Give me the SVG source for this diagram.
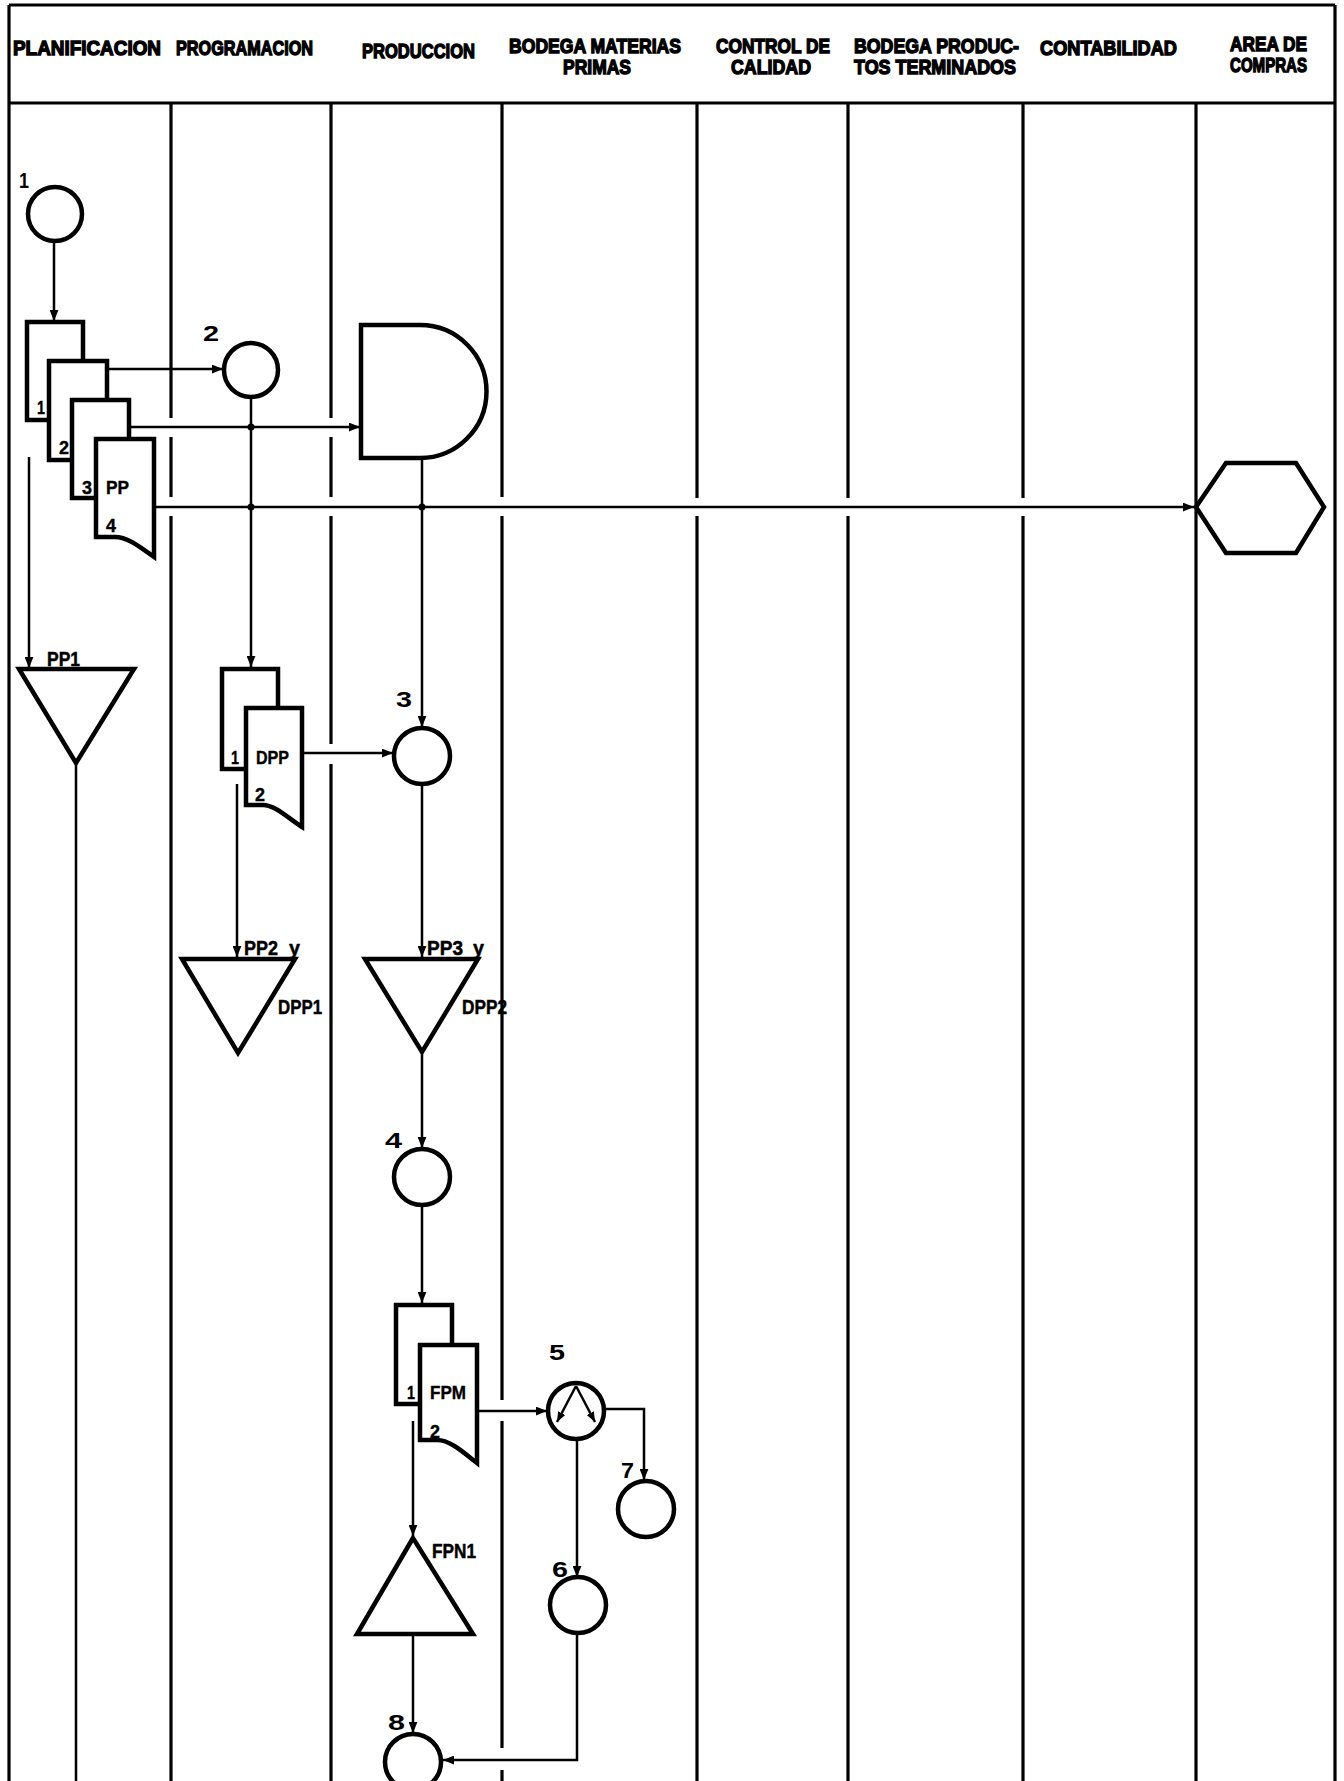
<svg xmlns="http://www.w3.org/2000/svg" width="1344" height="1781" viewBox="0 0 1344 1781">
<defs>
<marker id="ah" viewBox="0 0 10 8" refX="10" refY="4" markerWidth="11" markerHeight="9" markerUnits="userSpaceOnUse" orient="auto"><path d="M0,0 L10,4 L0,8 Z" fill="#000"/></marker>
<marker id="ahs" viewBox="0 0 10 8" refX="10" refY="4" markerWidth="10" markerHeight="9" markerUnits="userSpaceOnUse" orient="auto"><path d="M0,0 L10,4 L0,8 Z" fill="#000"/></marker>
</defs>
<style>
.lane{stroke:#000;stroke-width:3.2;fill:none}
.conn{stroke:#000;stroke-width:2.5;fill:none}
.arr{marker-end:url(#ah)}
.shape{stroke:#000;stroke-width:4.5;fill:#fff;stroke-linejoin:miter}
.hdr{font-family:"Liberation Sans",Arial,sans-serif;font-weight:bold;font-size:21px;fill:#000;stroke:#000;stroke-width:1.4}
.num{font-family:"Liberation Sans",Arial,sans-serif;font-weight:bold;font-size:22px;fill:#000}
.lbl{font-family:"Liberation Sans",Arial,sans-serif;font-weight:bold;font-size:21px;fill:#000;stroke:#000;stroke-width:0.5}
.sm{font-family:"Liberation Sans",Arial,sans-serif;font-weight:bold;font-size:19px;fill:#000;stroke:#000;stroke-width:0.4}
.dot{fill:#000}
</style>
<rect width="1344" height="1781" fill="#fff"/>

<g id="frame">
<path class="lane" d="M9,5 H1335 M9,5 V1781 M1335,5 V1781 M9,103 H1335"/>
<path class="lane" d="M171,103 V418 M171,437 V497 M171,516 V1781"/>
<path class="lane" d="M331,103 V418 M331,437 V497 M331,516 V744 M331,764 V1781"/>
<path class="lane" d="M502,103 V497 M502,516 V1400 M502,1421 V1748 M502,1770 V1781"/>
<path class="lane" d="M697,103 V498 M697,516 V1781"/>
<path class="lane" d="M848,103 V498 M848,516 V1781"/>
<path class="lane" d="M1023,103 V498 M1023,516 V1781"/>
<path class="lane" d="M1196,103 V1781"/>
</g>

<g id="header">
<text class="hdr" x="13" y="55" textLength="148" lengthAdjust="spacingAndGlyphs">PLANIFICACION</text>
<text class="hdr" x="176" y="55" textLength="137" lengthAdjust="spacingAndGlyphs">PROGRAMACION</text>
<text class="hdr" x="362" y="58" textLength="113" lengthAdjust="spacingAndGlyphs">PRODUCCION</text>
<text class="hdr" x="509" y="53" textLength="172" lengthAdjust="spacingAndGlyphs">BODEGA MATERIAS</text>
<text class="hdr" x="563" y="74" textLength="68" lengthAdjust="spacingAndGlyphs">PRIMAS</text>
<text class="hdr" x="716" y="53" textLength="114" lengthAdjust="spacingAndGlyphs">CONTROL DE</text>
<text class="hdr" x="731" y="74" textLength="80" lengthAdjust="spacingAndGlyphs">CALIDAD</text>
<text class="hdr" x="854" y="53" textLength="165" lengthAdjust="spacingAndGlyphs">BODEGA PRODUC-</text>
<text class="hdr" x="854" y="74" textLength="162" lengthAdjust="spacingAndGlyphs">TOS TERMINADOS</text>
<text class="hdr" x="1040" y="55" textLength="137" lengthAdjust="spacingAndGlyphs">CONTABILIDAD</text>
<text class="hdr" x="1230" y="51" textLength="77" lengthAdjust="spacingAndGlyphs">AREA DE</text>
<text class="hdr" x="1230" y="72" textLength="77" lengthAdjust="spacingAndGlyphs">COMPRAS</text>
</g>

<g id="connectors">
<path class="conn arr" d="M54,241 V321"/>
<path class="conn arr" d="M107,369 H223"/>
<path class="conn arr" d="M129,427 H360"/>
<path class="conn arr" d="M154,507 H1194"/>
<path class="conn arr" d="M251,397 V667"/>
<path class="conn arr" d="M422,458 V727"/>
<path class="conn arr" d="M29,457 V668"/>
<path class="conn" d="M76,763 V1781"/>
<path class="conn arr" d="M302,753 H393"/>
<path class="conn arr" d="M237,784 V957"/>
<path class="conn arr" d="M422,784 V957"/>
<path class="conn arr" d="M422,1052 V1148"/>
<path class="conn arr" d="M422,1205 V1303"/>
<path class="conn arr" d="M477,1411 H547"/>
<path class="conn arr" d="M413,1421 V1536"/>
<path class="conn arr" d="M604,1409 H644 V1480"/>
<path class="conn arr" d="M577,1439 V1577"/>
<path class="conn arr" d="M413,1636 V1733"/>
<path class="conn arr" d="M577,1633 V1760 H443"/>
<circle class="dot" cx="251" cy="427" r="3.5"/>
<circle class="dot" cx="251" cy="507" r="3.5"/>
<circle class="dot" cx="422" cy="507" r="3.5"/>
</g>

<g id="n1">
<text class="num" x="19" y="188" textLength="10" lengthAdjust="spacingAndGlyphs">1</text>
<circle class="shape" cx="55" cy="214" r="27"/>
</g>

<g id="doc-pp">
<rect class="shape" x="27" y="322" width="56" height="98"/>
<rect class="shape" x="49" y="361" width="58" height="99"/>
<rect class="shape" x="72" y="400" width="57" height="98"/>
<path class="shape" d="M96,439 H154 V557 C140,547 128,537 115,537 H96 Z"/>
<text class="sm" x="37" y="414" textLength="8" lengthAdjust="spacingAndGlyphs">1</text>
<text class="sm" x="59" y="454" textLength="10" lengthAdjust="spacingAndGlyphs">2</text>
<text class="sm" x="82" y="494" textLength="10" lengthAdjust="spacingAndGlyphs">3</text>
<text class="sm" x="106" y="494" textLength="23" lengthAdjust="spacingAndGlyphs">PP</text>
<text class="sm" x="106" y="532" textLength="10" lengthAdjust="spacingAndGlyphs">4</text>
</g>

<g id="n2">
<text class="num" x="203" y="341" textLength="16" lengthAdjust="spacingAndGlyphs">2</text>
<circle class="shape" cx="251" cy="370" r="27"/>
</g>

<g id="delay">
<path class="shape" d="M361,325 H420 A66.5,66.5 0 0 1 420,458 H361 Z"/>
</g>

<g id="compras">
<polygon class="shape" points="1196,507 1226,463 1296,463 1324,507 1296,553 1226,553"/>
</g>

<g id="pp1">
<polygon class="shape" points="19,669 134,669 76,763"/>
<text class="lbl" x="47" y="666" textLength="33" lengthAdjust="spacingAndGlyphs">PP1</text>
</g>

<g id="doc-dpp">
<rect class="shape" x="222" y="669" width="56" height="100"/>
<path class="shape" d="M246,708 H302 V827 C288,818 275,805 263,805 H246 Z"/>
<text class="sm" x="231" y="764" textLength="8" lengthAdjust="spacingAndGlyphs">1</text>
<text class="sm" x="256" y="764" textLength="33" lengthAdjust="spacingAndGlyphs">DPP</text>
<text class="sm" x="255" y="801" textLength="10" lengthAdjust="spacingAndGlyphs">2</text>
</g>

<g id="n3">
<text class="num" x="396" y="707" textLength="16" lengthAdjust="spacingAndGlyphs">3</text>
<circle class="shape" cx="422" cy="756" r="28"/>
</g>

<g id="dpp1">
<polygon class="shape" points="182,959 295,959 238,1053"/>
<text class="lbl" x="244" y="955" textLength="34" lengthAdjust="spacingAndGlyphs">PP2</text>
<text class="lbl" x="289" y="955" textLength="11" lengthAdjust="spacingAndGlyphs">y</text>
<text class="lbl" x="278" y="1014" textLength="44" lengthAdjust="spacingAndGlyphs">DPP1</text>
</g>

<g id="dpp2">
<polygon class="shape" points="365,959 478,959 422,1052"/>
<text class="lbl" x="427" y="955" textLength="36" lengthAdjust="spacingAndGlyphs">PP3</text>
<text class="lbl" x="473" y="955" textLength="11" lengthAdjust="spacingAndGlyphs">y</text>
<text class="lbl" x="462" y="1014" textLength="45" lengthAdjust="spacingAndGlyphs">DPP2</text>
</g>

<g id="n4">
<text class="num" x="385" y="1148" textLength="17" lengthAdjust="spacingAndGlyphs">4</text>
<circle class="shape" cx="422" cy="1177" r="28"/>
</g>

<g id="doc-fpm">
<rect class="shape" x="396" y="1305" width="56" height="99"/>
<path class="shape" d="M420,1345 H477 V1463 C463,1452 450,1440 437,1440 H420 Z"/>
<text class="sm" x="407" y="1399" textLength="8" lengthAdjust="spacingAndGlyphs">1</text>
<text class="sm" x="430" y="1399" textLength="36" lengthAdjust="spacingAndGlyphs">FPM</text>
<text class="sm" x="430" y="1438" textLength="10" lengthAdjust="spacingAndGlyphs">2</text>
</g>

<g id="n5">
<text class="num" x="549" y="1360" textLength="16" lengthAdjust="spacingAndGlyphs">5</text>
<circle class="shape" cx="576" cy="1411" r="28"/>
<path class="conn" d="M576,1386 L557,1422" marker-end="url(#ahs)"/>
<path class="conn" d="M576,1386 L595,1422" marker-end="url(#ahs)"/>
</g>

<g id="n7">
<text class="num" x="621" y="1478" textLength="13" lengthAdjust="spacingAndGlyphs">7</text>
<circle class="shape" cx="646" cy="1509" r="28"/>
</g>

<g id="n6">
<text class="num" x="552" y="1577" textLength="16" lengthAdjust="spacingAndGlyphs">6</text>
<circle class="shape" cx="578" cy="1605" r="28"/>
</g>

<g id="fpn1">
<polygon class="shape" points="413,1538 357,1634 473,1634"/>
<text class="lbl" x="432" y="1558" textLength="44" lengthAdjust="spacingAndGlyphs">FPN1</text>
</g>

<g id="n8">
<text class="num" x="388" y="1730" textLength="17" lengthAdjust="spacingAndGlyphs">8</text>
<circle class="shape" cx="413" cy="1762" r="28"/>
</g>
</svg>
